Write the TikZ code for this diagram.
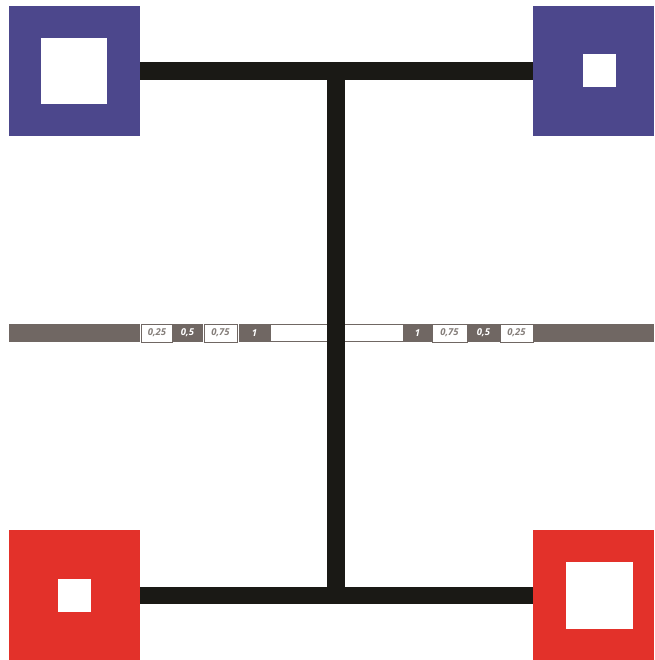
\documentclass[tikz,border=0pt]{standalone}
\usepackage{fontspec}
\setsansfont{Open Sans}
\definecolor{sqblue}{RGB}{76,71,140}
\definecolor{sqred}{RGB}{227,49,42}
\definecolor{bargray}{RGB}{112,103,99}
\definecolor{barblack}{RGB}{26,25,21}
\begin{document}
\begin{tikzpicture}[x=1pt,y=-1pt,
  sq/.style={inner sep=0,outer sep=0,minimum width=#1,minimum height=#1,fill=white},
  outer/.style={inner sep=0,outer sep=0,fill=#1},
  beam/.style={line width=17.5pt,draw=barblack},
  lbl/.style={inner sep=0,outer sep=0,minimum height=18,font=\sffamily\bfseries\itshape\fontsize{9.5}{10}\selectfont},
  wlbl/.style={lbl,fill=white,draw=bargray,line width=0.6pt,text=bargray!85},
  dlbl/.style={lbl,fill=bargray,text=white}]
\useasboundingbox (0,0) rectangle (654,660);
% gray scale bar
\fill[bargray] (9,324) rectangle (140,342);
\fill[bargray] (533,324) rectangle (654,342);
\draw[bargray,line width=0.6pt,fill=white] (270,324.3) rectangle (403,341.7);
\node[wlbl,minimum width=31] (l1) at (157,333) {0,25};
\node[dlbl,minimum width=30] (l2) at (187.5,333) {0,5};
\node[wlbl,minimum width=33] (l3) at (220.5,333) {0,75};
\node[dlbl,minimum width=31] (l4) at (254.5,333) {1};
\node[dlbl,minimum width=29] (r4) at (417.5,333) {1};
\node[wlbl,minimum width=35] (r3) at (449.5,333) {0,75};
\node[dlbl,minimum width=33] (r2) at (483.5,333) {0,5};
\node[wlbl,minimum width=33] (r1) at (516.5,333) {0,25};
% corner squares
\node[outer=sqblue,minimum width=131,minimum height=130] (tl) at (74.5,71) {};
\node[outer=sqblue,minimum width=121,minimum height=130] (tr) at (593.5,71) {};
\node[outer=sqred,minimum width=131,minimum height=130] (bl) at (74.5,595) {};
\node[outer=sqred,minimum width=121,minimum height=130] (br) at (593.5,595) {};
\node[sq=66] (tlin) at (74,71) {};
\node[sq=33] (trin) at (599.5,71) {};
\node[sq=33] (blin) at (74.5,595.5) {};
\node[sq=67] (brin) at (599.5,595) {};
% beams
\coordinate (tj) at (336,71);
\coordinate (bj) at (336,595.5);
\draw[beam] (tl.east |- tj) -- (tr.west |- tj);
\draw[beam] (bl.east |- bj) -- (br.west |- bj);
\draw[line width=18pt,draw=barblack] ([yshift=-8.5]tj) -- ([yshift=8.5]bj);
\end{tikzpicture}
\end{document}
